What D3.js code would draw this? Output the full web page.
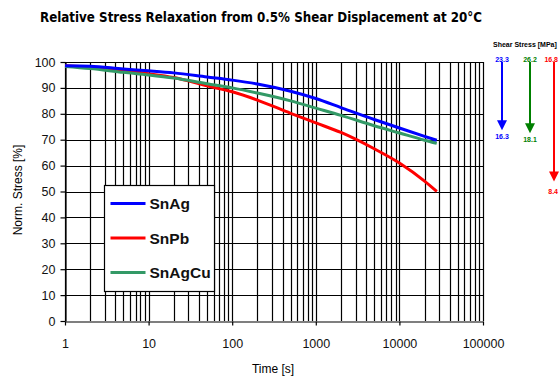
<!DOCTYPE html>
<html>
<head>
<meta charset="utf-8">
<script src="https://cdn.jsdelivr.net/npm/d3@7/dist/d3.min.js"></script>
<style>
  html, body { margin: 0; padding: 0; background: #fff; }
  svg { display: block; }
</style>
</head>
<body>
<svg id="chart" width="559" height="380"></svg>
<script>
// Relaxation times [s] and normalised stress [%] for each solder alloy
const times  = [1, 2, 5, 10, 20, 50, 100, 200, 500, 1000, 2000, 5000, 10000, 20000, 28000];
const snAg   = [98.6, 98.4, 97.3, 96.6, 95.8, 94.2, 93.0, 91.5, 88.7, 85.9, 82.4, 77.8, 74.5, 71.3, 69.8];
const snPb   = [98.6, 98.0, 96.7, 95.5, 94.0, 90.8, 88.5, 85.3, 80.2, 76.5, 72.8, 66.5, 61.0, 54.0, 50.0];
const snAgCu = [98.3, 97.5, 96.0, 95.0, 93.8, 91.6, 90.0, 88.0, 85.0, 82.2, 79.4, 75.4, 72.6, 69.8, 68.6];

const seriesNames  = ["SnAg", "SnPb", "SnAgCu"];
const seriesColors = ["#0000ff", "#ff0000", "#339966"];
const arrowColors  = ["#0000ff", "#008000", "#ff0000"];
// Shear stress at start / end of relaxation [MPa]: SnAg, SnAgCu, SnPb
const stressStart = ["23.3", "26.2", "16.8"];
const stressEnd   = ["16.3", "18.1", "8.4"];

const xTickValues = [1, 10, 100, 1000, 10000, 100000];
const xTickLabels = ["1", "10", "100", "1000", "10000", "100000"];
const yTickValues = [0, 10, 20, 30, 40, 50, 60, 70, 80, 90, 100];

const svg = d3.select("#chart");
const margin = { left: 65, right: 76, top: 62, bottom: 59 };
const W = 559, H = 380;

const x = d3.scaleLog().domain([1, 100000]).range([margin.left, W - margin.right]);
const y = d3.scaleLinear().domain([0, 100]).range([H - margin.bottom, margin.top]);

// Title
svg.append("text")
  .attr("x", 261).attr("y", 22)
  .attr("text-anchor", "middle")
  .attr("font-family", "'Liberation Sans Narrow', 'Arial Narrow', 'DejaVu Sans Condensed', sans-serif")
  .attr("font-weight", "bold")
  .attr("font-size", 14.5)
  .attr("textLength", 442)
  .attr("lengthAdjust", "spacingAndGlyphs")
  .text("Relative Stress Relaxation from 0.5% Shear Displacement at 20°C");

// Grid: vertical lines at 1..9 per decade, horizontal every 10 %
const minorTicks = [];
for (let d = 1; d < 100000; d *= 10) {
  for (let k = 1; k <= 9; k++) minorTicks.push(d * k);
}
minorTicks.push(100000);

const grid = svg.append("g").attr("stroke", "#000").attr("stroke-width", 1.2);
grid.selectAll("line.v").data(minorTicks).join("line")
  .attr("class", "v")
  .attr("x1", d => Math.round(x(d)) + 0.5).attr("x2", d => Math.round(x(d)) + 0.5)
  .attr("y1", y(100)).attr("y2", y(0));
grid.selectAll("line.h").data(yTickValues.filter(v => v > 0)).join("line")
  .attr("class", "h")
  .attr("x1", x(1)).attr("x2", x(100000))
  .attr("y1", d => Math.round(y(d)) + 0.5).attr("y2", d => Math.round(y(d)) + 0.5);

// Axes
const xAxis = d3.axisBottom(x)
  .tickValues(xTickValues)
  .tickFormat((d, i) => xTickLabels[i])
  .tickSize(4).tickSizeOuter(0).tickPadding(14);
const gx = svg.append("g")
  .attr("transform", `translate(0,${Math.round(y(0)) + 0.5})`)
  .call(xAxis);

const yAxis = d3.axisLeft(y)
  .tickValues(yTickValues)
  .tickSize(5).tickSizeOuter(0).tickPadding(5);
const gy = svg.append("g")
  .attr("transform", `translate(${Math.round(x(1)) + 0.5},0)`)
  .call(yAxis);

[gx, gy].forEach(g => {
  g.selectAll("path, line").attr("stroke", "#000").attr("stroke-width", 1.2);
  g.selectAll("text")
    .attr("font-family", "'Liberation Sans', Arial, sans-serif")
    .attr("font-size", 12.5)
    .attr("fill", "#111");
});

// Axis titles
svg.append("text")
  .attr("x", 273).attr("y", 373)
  .attr("text-anchor", "middle")
  .attr("font-family", "'Liberation Sans', Arial, sans-serif")
  .attr("font-size", 12)
  .text("Time [s]");
svg.append("text")
  .attr("transform", "translate(22,190) rotate(-90)")
  .attr("text-anchor", "middle")
  .attr("font-family", "'Liberation Sans', Arial, sans-serif")
  .attr("font-size", 12)
  .text("Norm. Stress [%]");

// Curves
const allSeries = [snAg, snPb, snAgCu];
const line = d3.line()
  .x((d, i) => x(times[i]))
  .y(d => y(d))
  .curve(d3.curveMonotoneX);
const drawOrder = [1, 2, 0];
drawOrder.forEach(si => {
  svg.append("path")
    .datum(allSeries[si])
    .attr("fill", "none")
    .attr("stroke", seriesColors[si])
    .attr("stroke-width", 3)
    .attr("d", line);
});

// Legend
const legend = svg.append("g").attr("transform", "translate(104.5,185.5)");
legend.append("rect")
  .attr("width", 110).attr("height", 106)
  .attr("fill", "#fff").attr("stroke", "#000").attr("stroke-width", 1.2);
seriesNames.forEach((name, i) => {
  const ly = 18 + i * 34.5;
  legend.append("line")
    .attr("x1", 6).attr("x2", 41).attr("y1", ly).attr("y2", ly)
    .attr("stroke", seriesColors[i]).attr("stroke-width", 3);
  legend.append("text")
    .attr("x", 45).attr("y", ly + 5.5)
    .attr("font-family", "'Liberation Sans', Arial, sans-serif")
    .attr("font-weight", "bold")
    .attr("font-size", 15.5)
    .attr("fill", "#111")
    .text(name);
});

// Shear stress annotation arrows on the right
svg.append("text")
  .attr("x", 493).attr("y", 47)
  .attr("font-family", "'Liberation Sans', Arial, sans-serif")
  .attr("font-weight", "bold")
  .attr("font-size", 7)
  .text("Shear Stress [MPa]");

const arrowX   = [502, 530, 554];
const arrowEnd = [snAg, snAgCu, snPb].map(s => s[s.length - 1]);
arrowX.forEach((ax, i) => {
  const top = y(100);
  const endY = y(arrowEnd[i]);
  const tip = endY - 10;
  // the last arrow sits against the right edge, so its labels are right-aligned
  const lx = i === 2 ? W - 1 : ax;
  const anchor = i === 2 ? "end" : "middle";
  svg.append("line")
    .attr("x1", ax).attr("x2", ax).attr("y1", top).attr("y2", tip - 8)
    .attr("stroke", arrowColors[i]).attr("stroke-width", 2);
  svg.append("path")
    .attr("d", `M${ax - 5},${tip - 10} L${ax + 5},${tip - 10} L${ax},${tip} Z`)
    .attr("fill", arrowColors[i]);
  svg.append("text")
    .attr("x", lx).attr("y", top - 0.5)
    .attr("text-anchor", anchor)
    .attr("font-family", "'Liberation Sans', Arial, sans-serif")
    .attr("font-weight", "bold")
    .attr("font-size", 7)
    .attr("fill", arrowColors[i])
    .text(stressStart[i]);
  svg.append("text")
    .attr("x", lx).attr("y", endY + (i === 2 ? 2 : -1))
    .attr("text-anchor", anchor)
    .attr("font-family", "'Liberation Sans', Arial, sans-serif")
    .attr("font-weight", "bold")
    .attr("font-size", 7)
    .attr("fill", arrowColors[i])
    .text(stressEnd[i]);
});
</script>
</body>
</html>
